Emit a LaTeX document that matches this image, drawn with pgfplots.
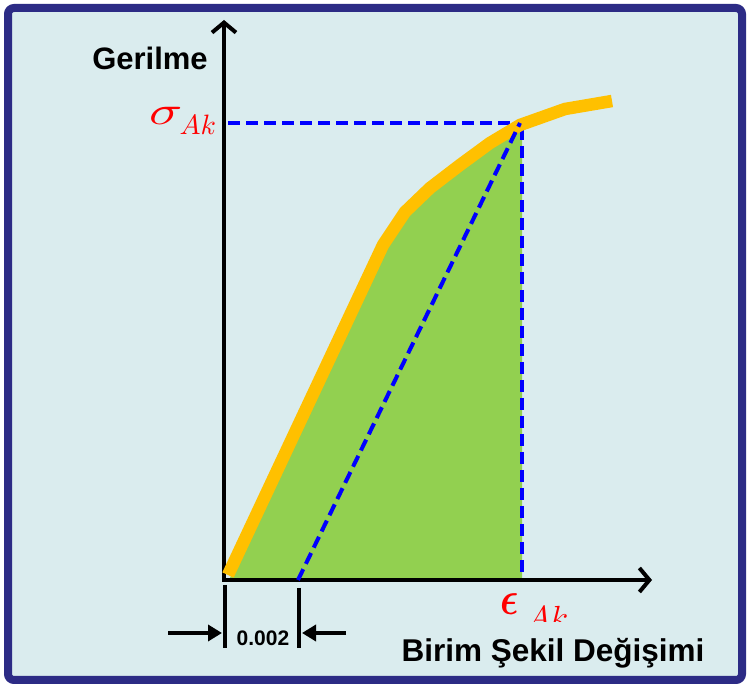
\documentclass[border=0pt]{standalone}
\usepackage{pgfplots}
\pgfplotsset{compat=1.18}
\usetikzlibrary{arrows.meta}
\usepackage{graphicx}
\usepackage{bm}
\usepackage{fontspec}
\setmainfont{Liberation Sans}
\definecolor{bgcyan}{RGB}{218,236,238}
\definecolor{borderblue}{RGB}{44,43,133}
\definecolor{curveorange}{RGB}{255,192,0}
\definecolor{fillgreen}{RGB}{146,208,80}
\definecolor{dashblue}{RGB}{0,0,255}
\begin{document}
\begin{tikzpicture}
\begin{axis}[scale only axis, width=750pt, height=688pt,
  xmin=0, xmax=750, ymin=0, ymax=688, axis lines=none, clip=false]
\fill[white] (axis cs:0,0) rectangle (axis cs:750,688);
\draw[line width=8pt, draw=borderblue, fill=bgcyan, rounded corners=6pt] (axis cs:8,8) rectangle (axis cs:742,680);
% green area under the curve
\addplot[fill=fillgreen, draw=none] coordinates {(230,110) (383,443) (405,476) (430,500) (460,523) (490,545) (520,563) (522,563) (522,107) (230,110)} -- cycle;
% dashed guides
\addplot[dashblue, line width=4pt, dash pattern=on 12pt off 6pt] coordinates {(228,565) (518,565)};
\addplot[dashblue, line width=4pt, dash pattern=on 12pt off 6pt] coordinates {(522,560) (522,108)};
% axes
\draw[line width=4pt, -{Straight Barb[length=10pt,width=24pt]}] (axis cs:224,106) -- (axis cs:224,668);
\draw[line width=4pt, -{Straight Barb[length=10pt,width=24pt]}] (axis cs:222,108) -- (axis cs:652,108);
% stress-strain curve
\addplot[curveorange, line width=12.5pt, line cap=butt] coordinates {(228,113) (383,443) (405,476) (430,500) (460,523) (490,545) (520,563) (565,579) (612,587)};
% offset line
\addplot[dashblue, line width=4pt, dash pattern=on 12pt off 6pt] coordinates {(298,108) (520,565)};
% 0.002 dimension
\draw[line width=4pt] (axis cs:225,103) -- (axis cs:225,40);
\draw[line width=4pt] (axis cs:299,100) -- (axis cs:299,40);
\draw[line width=4pt, -{Triangle[length=14pt,width=16pt]}] (axis cs:168,55) -- (axis cs:222,55);
\draw[line width=4pt, -{Triangle[length=14pt,width=16pt]}] (axis cs:346,55) -- (axis cs:302,55);
\node[font=\fontsize{21}{21}\selectfont\bfseries] at (axis cs:263,50) {0.002};
% labels
\node[font=\fontsize{31}{31}\selectfont\bfseries] at (axis cs:150,630) {Gerilme};
\node[anchor=base west, text=red, inner sep=0pt] at (axis cs:149,563) {\scalebox{5.5}[4]{$\sigma$}\hspace{-3pt}\raisebox{-10pt}{\scalebox{2.8}{$Ak$}}};
\node[anchor=base west, text=red, inner sep=0pt] at (axis cs:500,73) {\scalebox{3.8}[4.7]{$\bm{\epsilon}$}\hspace{8pt}\raisebox{-14pt}{\scalebox{3.2}{$Ak$}}};
\fill[bgcyan] (axis cs:380,66) rectangle (axis cs:730,14);
\node[font=\fontsize{31.5}{31.5}\selectfont\bfseries] at (axis cs:553,35) {Birim Şekil Değişimi};
\end{axis}
\end{tikzpicture}
\end{document}
